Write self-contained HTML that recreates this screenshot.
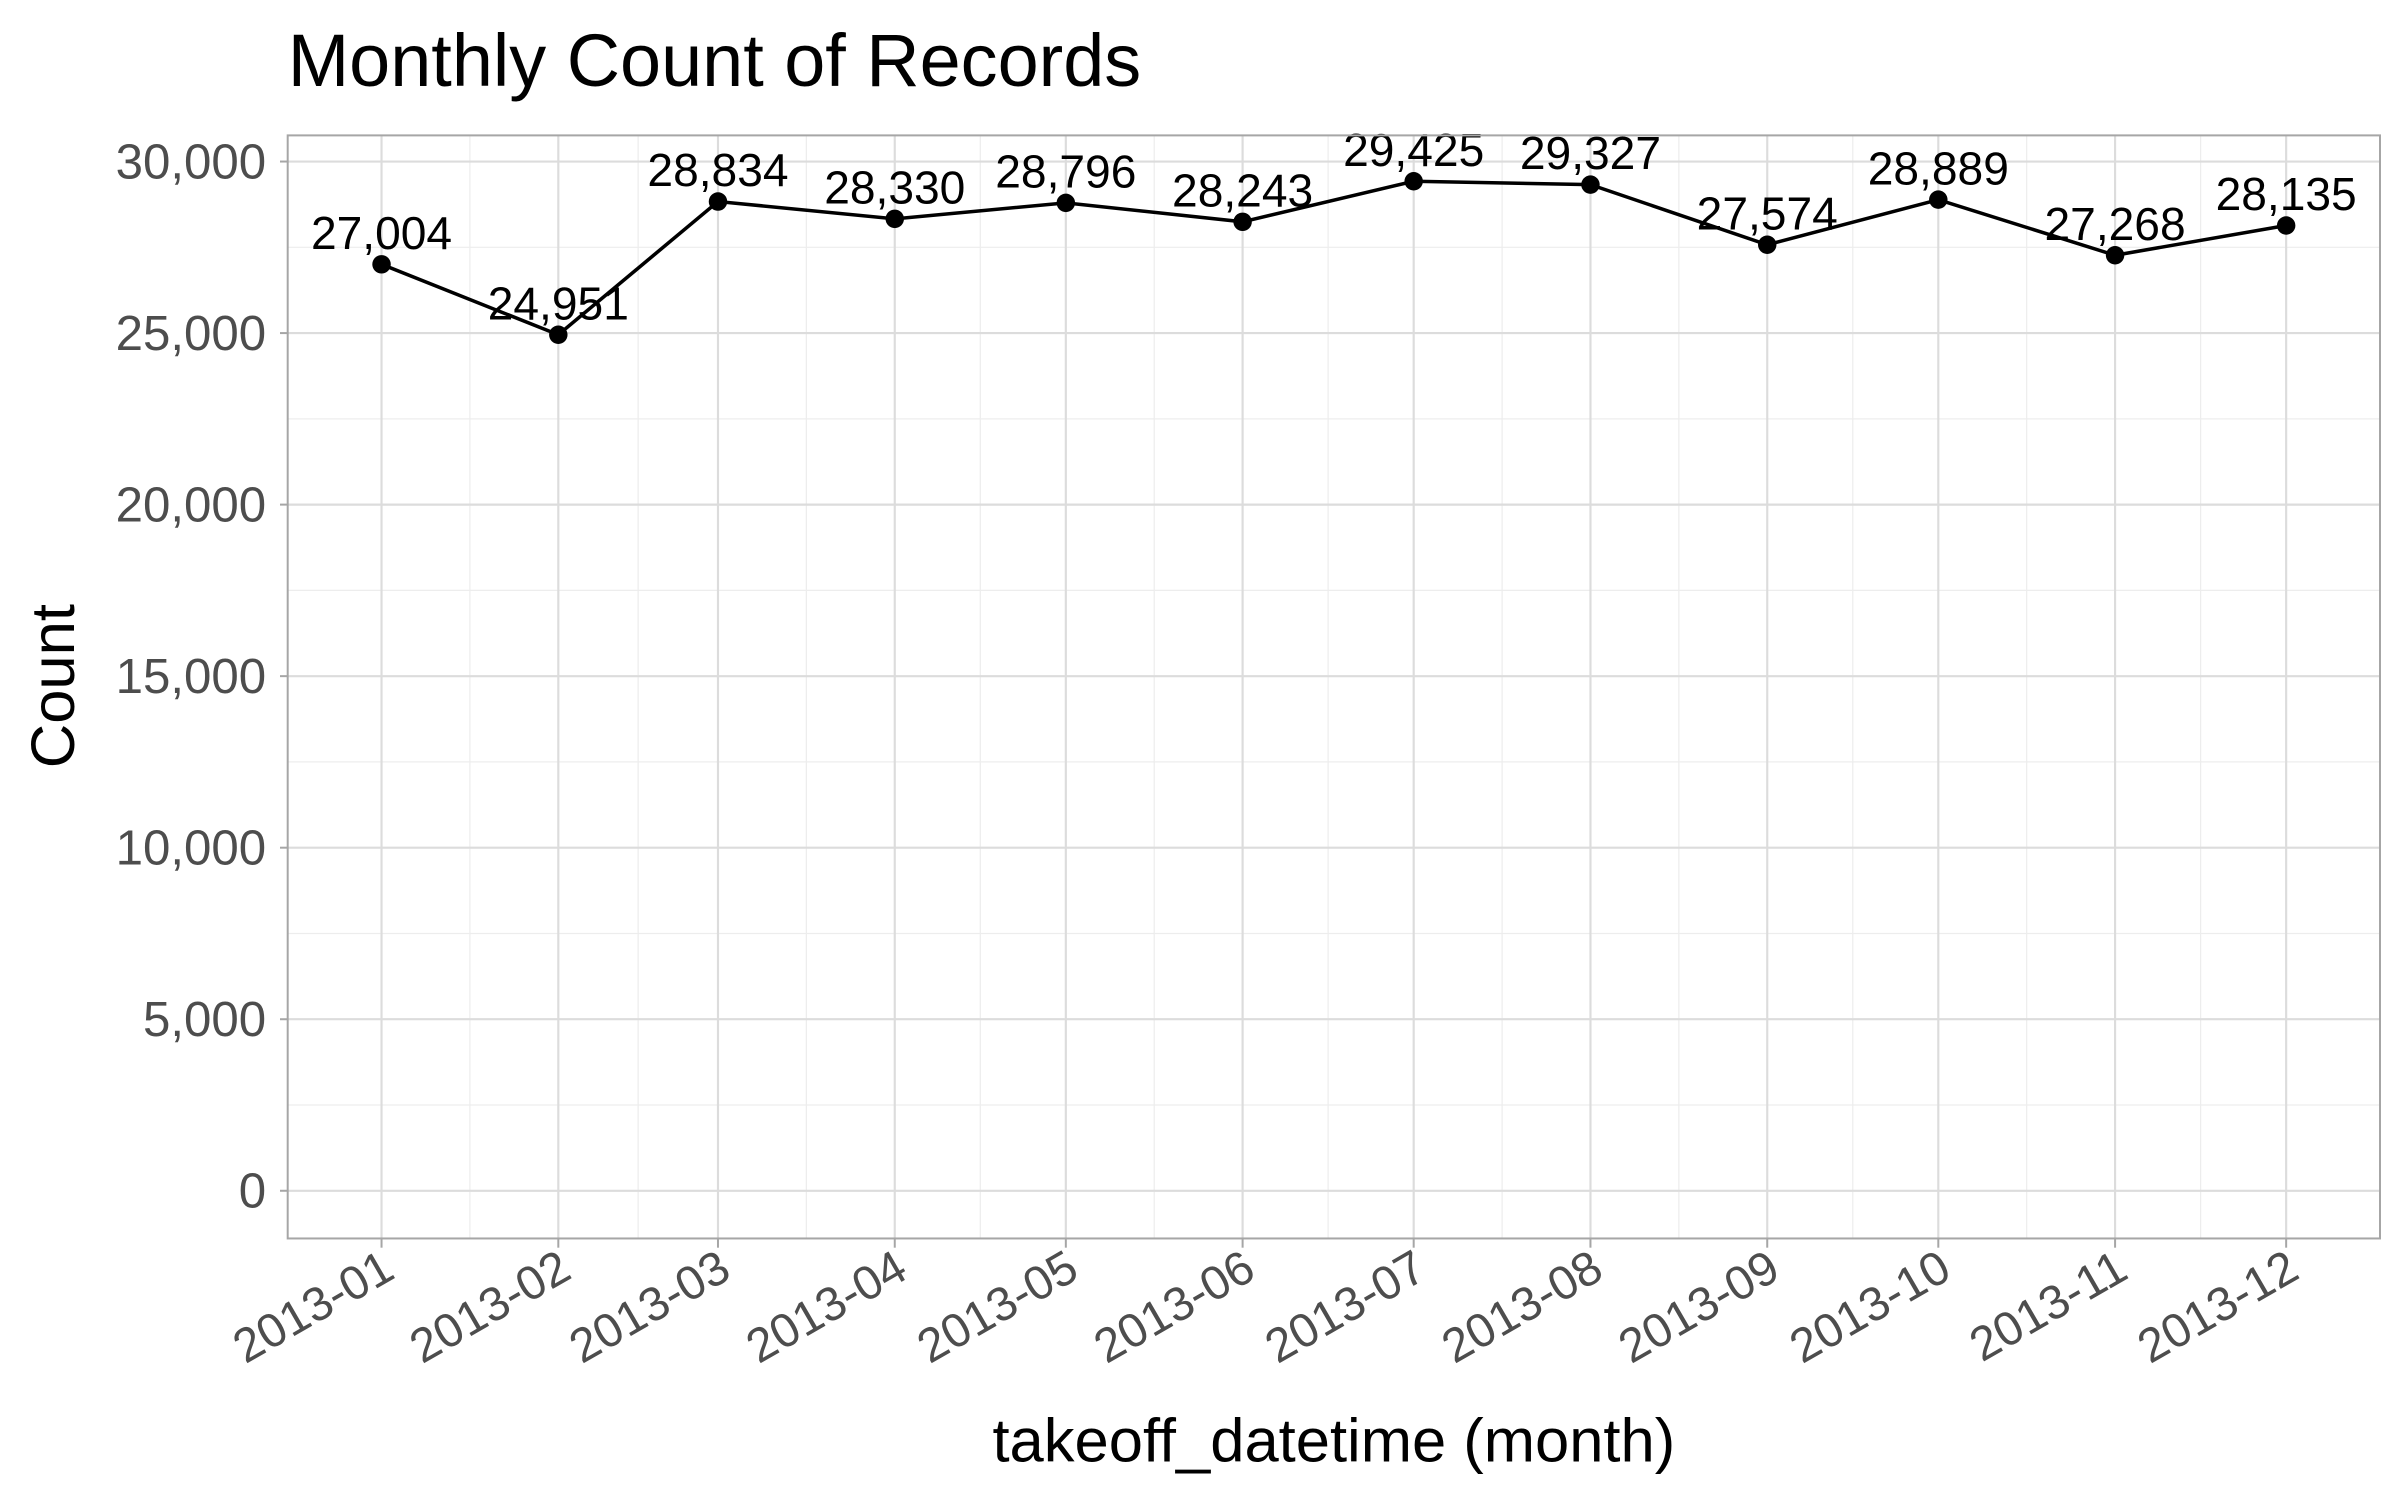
<!DOCTYPE html>
<html><head><meta charset="utf-8"><style>
html,body{margin:0;padding:0;background:#fff;}
svg{display:block;font-family:"Liberation Sans",Arial,sans-serif;}
</style></head><body>
<svg id="chart" width="2400" height="1500" viewBox="0 0 1560 975" xmlns="http://www.w3.org/2000/svg">
<rect x="0" y="0" width="1560" height="975" fill="#fff"/>
<text x="187" y="56" font-size="48" fill="#000">Monthly Count of Records</text>
<g id="grid"></g>
<g id="series"></g>
<rect x="187" y="88" width="1360" height="717" fill="none" stroke="#a6a6a6" stroke-width="1.3"/>
<g id="axes"></g>
<text x="867" y="950" font-size="40" text-anchor="middle" fill="#000">takeoff_datetime (month)</text>
<text transform="translate(48,446) rotate(-90)" font-size="40" text-anchor="middle" fill="#000">Count</text>
</svg>
<script>
const months = ["2013-01","2013-02","2013-03","2013-04","2013-05","2013-06","2013-07","2013-08","2013-09","2013-10","2013-11","2013-12"];
const dayOffsets = [0,31,59,90,120,151,181,212,243,273,304,334];
const counts = [27004,24951,28834,28330,28796,28243,29425,29327,27574,28889,27268,28135];
const yTicks = [0,5000,10000,15000,20000,25000,30000];
const yMinor = [2500,7500,12500,17500,22500,27500];

const NS="http://www.w3.org/2000/svg";
const xs = d => 248 + d*(1486-248)/334;
const ys = v => 774 - v*(774-105)/30000;
const L=187,R=1547,T=88,B=805;
function mk(tag,attrs,parent){const e=document.createElementNS(NS,tag);for(const k in attrs)e.setAttribute(k,attrs[k]);parent.appendChild(e);return e;}
const grid=document.getElementById('grid'),series=document.getElementById('series'),axes=document.getElementById('axes');
const fmt=v=>v.toLocaleString('en-US');

yMinor.forEach(v=>{const l=mk('line',{x1:L,x2:R,y1:ys(v),y2:ys(v),stroke:'#ededed','stroke-width':0.8},grid);

});
for(let i=0;i<dayOffsets.length-1;i++){const x=(xs(dayOffsets[i])+xs(dayOffsets[i+1]))/2;
const l=mk('line',{x1:x,x2:x,y1:T,y2:B,stroke:'#ededed','stroke-width':0.8},grid);

}
yTicks.forEach(v=>{const y=ys(v);
const l=mk('line',{x1:L,x2:R,y1:y,y2:y,stroke:'#dcdcdc','stroke-width':1.4},grid);


const t=mk('line',{x1:L-5,x2:L,y1:y,y2:y,stroke:'#a6a6a6','stroke-width':1.3},axes);


const tx=mk('text',{x:L-14,y:y+11,'font-size':32,'text-anchor':'end',fill:'#4d4d4d'},axes);
tx.textContent=fmt(v);

});
dayOffsets.forEach((d,i)=>{const x=xs(d);
const l=mk('line',{x1:x,x2:x,y1:T,y2:B,stroke:'#dcdcdc','stroke-width':1.4},grid);


const t=mk('line',{x1:x,x2:x,y1:B,y2:B+6,stroke:'#a6a6a6','stroke-width':1.3},axes);


const tx=mk('text',{transform:`translate(${x+10},${B+25}) rotate(-30)`,'font-size':31,'text-anchor':'end',fill:'#4d4d4d'},axes);
tx.textContent=months[i];

});

const pts=counts.map((v,i)=>xs(dayOffsets[i])+','+ys(v)).join(' ');
const pl=mk('polyline',{points:pts,fill:'none',stroke:'#000','stroke-width':2.3},series);


counts.forEach((v,i)=>{const x=xs(dayOffsets[i]),y=ys(v);
const c=mk('circle',{cx:x,cy:y,r:6,fill:'#000'},series);


const t=mk('text',{x:x,y:y-10,'font-size':30,'text-anchor':'middle',fill:'#000'},series);
t.textContent=fmt(v);

});
</script>
</body></html>
